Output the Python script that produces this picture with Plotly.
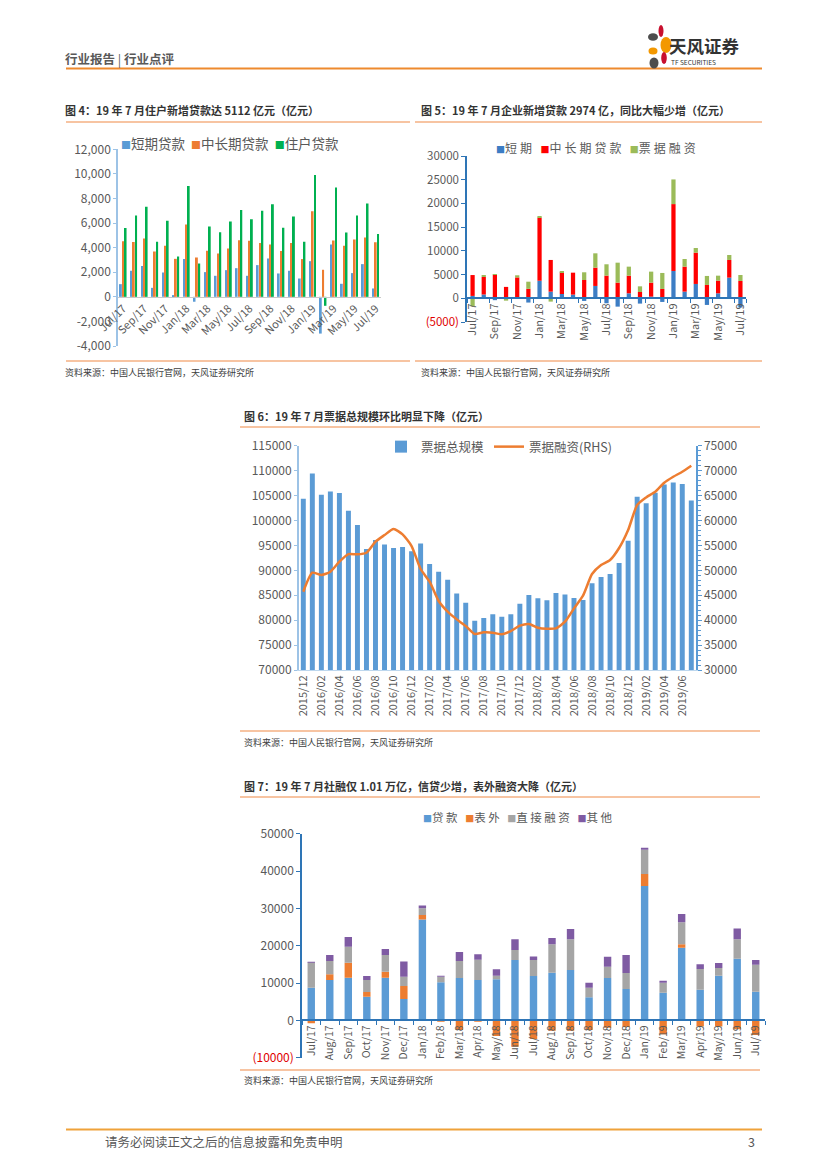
import plotly.graph_objects as go

# page is drawn with an 8px body margin, so the figure is offset by OFF
W, H, OFF = 827, 1169, 8
FW, FH = W - OFF, H - OFF
def fx(x): return (x - OFF) / FW
def fy(y): return 1 - (y - OFF) / FH

# ---------------- data ----------------
months = ["Jul/17","Aug/17","Sep/17","Oct/17","Nov/17","Dec/17","Jan/18","Feb/18","Mar/18","Apr/18",
          "May/18","Jun/18","Jul/18","Aug/18","Sep/18","Oct/18","Nov/18","Dec/18","Jan/19","Feb/19",
          "Mar/19","Apr/19","May/19","Jun/19","Jul/19"]

# Fig 4 household loans
short4 = [1030, 2120, 2500, 730, 1980, 140, 3070, -400, 2010, 1710, 2170, 2330, 1710, 2580, 3120,
          1900, 2120, 1490, 2900, -2990, 4260, 1060, 1930, 2660, 680]
mid4 = [4530, 4450, 4750, 3690, 4150, 3090, 5890, 3200, 3740, 3530, 3930, 4610, 4560, 4370, 4260,
        3720, 4370, 3070, 6970, 2200, 4590, 4150, 4670, 4830, 4430]
house4 = [5590, 6620, 7330, 4480, 6190, 3280, 9010, 2710, 5730, 5260, 6130, 7060, 6320, 7000, 7540,
          5620, 6540, 4480, 9900, -730, 8900, 5240, 6620, 7600, 5112]
names4 = ["短期贷款", "中长期贷款", "住户贷款"]
colors4 = ["#5B9BD5", "#ED7D31", "#00B050"]
ticks4 = [-4000, -2000, 0, 2000, 4000, 6000, 8000, 10000, 12000]
ticktext4 = ["-4,000", "-2,000", "0", "2,000", "4,000", "6,000", "8,000", "10,000", "12,000"]

# Fig 5 enterprise loans
short5 = [500, 800, -400, 100, 200, -900, 3700, 1400, 900, 770, -560, 2600, -1050, -1760, 1050,
          -1120, 350, -770, 5760, 1400, 3020, -1400, 1050, 4350, -1950]
mid5 = [4400, 3700, 5000, 2300, 4200, 2000, 13300, 6680, 4580, 4630, 3860, 3860, 4780, 3300, 3720,
        1330, 2950, 1970, 14100, 5270, 6600, 2810, 2670, 3730, 3650]
bill5 = [-1700, 200, 100, -500, 450, 1500, 350, -700, 100, 0, 1620, 3020, 2390, 4210, 1900,
         1190, 2320, 3370, 5200, 1620, 980, 1900, 1050, 1050, 1260]
names5 = ["短期", "中长期贷款", "票据融资"]
colors5 = ["#3C7DC4", "#FF0000", "#9BBB59"]
ticks5 = [-5000, 0, 5000, 10000, 15000, 20000, 25000, 30000]
ticktext5 = ["<span style='color:#E00000'>(5000)</span>", "0", "5000", "10000", "15000", "20000", "25000", "30000"]

# Fig 6 bills
months6 = ["2015/12","2016/01","2016/02","2016/03","2016/04","2016/05","2016/06","2016/07","2016/08",
           "2016/09","2016/10","2016/11","2016/12","2017/01","2017/02","2017/03","2017/04","2017/05",
           "2017/06","2017/07","2017/08","2017/09","2017/10","2017/11","2017/12","2018/01","2018/02",
           "2018/03","2018/04","2018/05","2018/06","2018/07","2018/08","2018/09","2018/10","2018/11",
           "2018/12","2019/01","2019/02","2019/03","2019/04","2019/05","2019/06","2019/07"]
bill_total = [104360, 109440, 105160, 105830, 105500, 101950, 99080, 94270, 96070, 95200, 94470,
              94670, 93800, 95400, 91260, 89720, 88120, 85370, 83500, 79890, 80430, 81160, 80700,
              81160, 83300, 85040, 84370, 83970, 85440, 85170, 84440, 84040, 87380, 88650, 89250,
              91460, 95940, 104760, 103430, 105570, 107240, 107640, 107300, 104030]
bill_fin = [45710, 49520, 49050, 49720, 51730, 53260, 53200, 53530, 55740, 57070, 58280, 57210,
            54870, 50260, 47710, 43840, 41700, 40160, 38820, 37220, 37550, 37490, 37150, 37820,
            38890, 39230, 38490, 38290, 38360, 39690, 42370, 44910, 49250, 51060, 52060, 54470,
            58080, 63090, 64630, 65760, 67570, 68770, 69780, 70980]

# Fig 7 TSF
loan7 = [8750, 10800, 11430, 6340, 11430, 5710, 27050, 10180, 11340, 10800, 10980, 16160, 11880,
         12770, 13480, 6160, 11340, 8390, 35980, 7410, 19460, 8210, 11960, 16520, 7680]
off7 = [-800, 1520, 4020, 1250, 1610, 3490, 1160, -100, -2590, -200, -4200, -7050, -5000, -2770,
        -2770, -2590, -1960, -1790, 3220, -3750, 900, -1610, -1610, -2410, -3930]
direct7 = [6790, 3570, 4280, 3210, 4460, 2500, 1790, 1520, 4550, 5450, 980, 2680, 4280, 7590, 8220,
           2590, 3040, 4290, 6510, 2680, 5890, 5540, 2060, 5180, 7230]
other7 = [150, 1610, 2590, 1080, 1610, 4100, 800, 180, 2410, 1430, 1700, 2860, 980, 1700, 2760,
          1340, 2680, 4820, 540, 450, 2230, 1250, 1340, 2940, 1250]
names7 = ["贷款", "表外", "直接融资", "其他"]
colors7 = ["#5B9BD5", "#ED7D31", "#A5A5A5", "#7F5BA3"]
ticks7 = [-10000, 0, 10000, 20000, 30000, 40000, 50000]
ticktext7 = ["<span style='color:#E00000'>(10000)</span>", "0", "10000", "20000", "30000", "40000", "50000"]

# ---------------- figure ----------------
fig = go.Figure()
FONT = "Noto Sans CJK SC"
GRAY = "#595959"

# Fig 4
for name, vals, col, g in zip(names4, [short4, mid4, house4], colors4, ["a", "b", "c"]):
    fig.add_trace(go.Bar(x=months, y=vals, name=name, marker_color=col, marker_line_width=0,
                         offsetgroup=g, xaxis="x", yaxis="y", showlegend=False))

# Fig 5
for name, vals, col in zip(names5, [short5, mid5, bill5], colors5):
    fig.add_trace(go.Bar(x=months, y=vals, name=name, marker_color=col, marker_line_width=0,
                         width=0.38, offsetgroup="s5", xaxis="x2", yaxis="y2", showlegend=False))

# Fig 6
fig.add_trace(go.Bar(x=months6, y=bill_total, name="票据总规模", marker_color="#5B9BD5",
                     marker_line_width=0, width=0.55, offsetgroup="s6",
                     xaxis="x3", yaxis="y3", legend="legend"))
fig.add_trace(go.Scatter(x=months6, y=bill_fin, name="票据融资(RHS)", mode="lines",
                         line=dict(color="#ED7D31", width=2.5, shape="spline", smoothing=0.6),
                         xaxis="x3", yaxis="y4", legend="legend"))

# Fig 7
for name, vals, col in zip(names7, [loan7, off7, direct7, other7], colors7):
    fig.add_trace(go.Bar(x=months, y=vals, name=name, marker_color=col, marker_line_width=0,
                         width=0.4, offsetgroup="s7", xaxis="x4", yaxis="y5", showlegend=False))

# axes geometry
y4_dom = [fy(346), fy(149.3)]
x4_pos = y4_dom[0] + (0 - ticks4[0]) / (ticks4[-1] - ticks4[0]) * (y4_dom[1] - y4_dom[0])
y5_dom = [fy(322), fy(156)]
x5_pos = y5_dom[0] + (0 - ticks5[0]) / (ticks5[-1] - ticks5[0]) * (y5_dom[1] - y5_dom[0])
y7_dom = [fy(1057.7), fy(833.7)]
x7_pos = y7_dom[0] + (0 - ticks7[0]) / (ticks7[-1] - ticks7[0]) * (y7_dom[1] - y7_dom[0])

common = dict(showgrid=False, zeroline=False, fixedrange=True, automargin=False)

layout = dict(
    width=FW, height=FH, margin=dict(l=0, r=0, t=0, b=0, autoexpand=False),
    paper_bgcolor="white", plot_bgcolor="rgba(0,0,0,0)",
    barmode="relative", bargap=0.33, bargroupgap=0.2,
    font=dict(family=FONT, color=GRAY, size=11),
    # Fig 4
    xaxis=dict(domain=[fx(118), fx(381)], anchor="free", position=x4_pos, type="category",
               tickmode="array", tickvals=months[::2], tickangle=-45,
               tickfont=dict(size=11, color=GRAY), showline=True, linecolor="#C9C9C9",
               linewidth=1, ticks="", **common),
    yaxis=dict(domain=y4_dom, range=[ticks4[0], ticks4[-1]], tickmode="array",
               tickvals=ticks4, ticktext=ticktext4, tickfont=dict(size=12, color=GRAY),
               showline=True, linecolor="#9DC3E6", linewidth=1.5, ticks="outside", ticklen=3,
               tickcolor="#9DC3E6", anchor="x", **common),
    # Fig 5
    xaxis2=dict(domain=[fx(467), fx(746)], anchor="free", position=x5_pos, type="category",
                tickmode="array", tickvals=months[::2], tickangle=-90,
                tickfont=dict(size=11, color=GRAY), showline=True, linecolor="#2E75B6",
                linewidth=1.5, ticks="outside", ticklen=4, tickcolor="#2E75B6",
                tickson="boundaries", **common),
    yaxis2=dict(domain=y5_dom, range=[ticks5[0], ticks5[-1]], tickmode="array",
                tickvals=ticks5, ticktext=ticktext5, tickfont=dict(size=11.5, color=GRAY),
                showline=True, linecolor="#2E75B6", linewidth=1.5, ticks="outside", ticklen=4,
                tickcolor="#2E75B6", anchor="x2", **common),
    # Fig 6
    xaxis3=dict(domain=[fx(298.8), fx(695.8)], anchor="y3", type="category",
                tickmode="array", tickvals=months6[::2], tickangle=-90,
                tickfont=dict(size=11, color=GRAY), showline=True, linecolor="#BDD7EE",
                linewidth=1, ticks="", **common),
    yaxis3=dict(domain=[fy(670), fy(445.7)], range=[70000, 115000], dtick=5000,
                tickfont=dict(size=12, color=GRAY), showline=True, linecolor="#9DC3E6",
                linewidth=1.5, ticks="outside", ticklen=3, tickcolor="#9DC3E6",
                anchor="x3", tickformat="d", **common),
    yaxis4=dict(overlaying="y3", side="right", anchor="x3", range=[30000, 75000], dtick=5000,
                tickfont=dict(size=12, color=GRAY), showline=True, linecolor="#5B9BD5",
                linewidth=1.5, ticks="outside", ticklen=4, tickcolor="#5B9BD5",
                minor=dict(ticks="outside", dtick=1000, ticklen=3, tickcolor="#5B9BD5"),
                tickformat="d", **common),
    # Fig 7
    xaxis4=dict(domain=[fx(302), fx(765)], anchor="free", position=x7_pos, type="category",
                tickmode="array", tickvals=months, tickangle=-90,
                tickfont=dict(size=10.5, color=GRAY), showline=True, linecolor="#2E75B6",
                linewidth=1.5, ticks="outside", ticklen=4, tickcolor="#2E75B6",
                tickson="boundaries", **common),
    yaxis5=dict(domain=y7_dom, range=[ticks7[0], ticks7[-1]], tickmode="array",
                tickvals=ticks7, ticktext=ticktext7, tickfont=dict(size=12, color=GRAY),
                showline=True, linecolor="#2E75B6", linewidth=1.5, ticks="outside", ticklen=4,
                tickcolor="#2E75B6", anchor="x4", **common),
    legend=dict(x=fx(381), y=fy(447), xanchor="left", yanchor="middle", orientation="h",
                font=dict(size=12.5, color=GRAY), bgcolor="rgba(0,0,0,0)"),
)
fig.update_layout(**layout)

# ---------------- page decoration ----------------
shapes = []
def hline(x0, x1, y, color, width):
    shapes.append(dict(type="line", xref="paper", yref="paper", x0=fx(x0), x1=fx(x1),
                       y0=fy(y), y1=fy(y), line=dict(color=color, width=width)))

hline(66, 762, 68.5, "#EE8A2E", 2)        # header
hline(66, 410, 122, "#F4B183", 1.3)      # fig4 title
hline(415, 762, 122, "#F4B183", 1.3)     # fig5 title
hline(66, 410, 361, "#F4B183", 1.3)      # fig4 source
hline(415, 762, 361, "#F4B183", 1.3)     # fig5 source
hline(240, 760, 427, "#F4B183", 1.3)     # fig6 title
hline(240, 760, 731, "#F4B183", 1.3)     # fig6 source
hline(240, 760, 797, "#F4B183", 1.3)     # fig7 title
hline(240, 760, 1070, "#F4B183", 1.3)    # fig7 source
hline(66, 762, 1129.5, "#EFA23A", 2)     # footer

def ellipse(cx, cy, rx, ry, color):
    shapes.append(dict(type="circle", xref="paper", yref="paper", x0=fx(cx - rx), x1=fx(cx + rx),
                       y0=fy(cy + ry), y1=fy(cy - ry), fillcolor=color, line=dict(width=0)))

ellipse(653, 37, 5, 3.8, "#4D4D4D")
ellipse(661, 31, 2.5, 6, "#C8102E")
ellipse(666, 45, 5.5, 8, "#F39800")
ellipse(653, 51, 4.5, 3.5, "#F39800")
ellipse(664, 58, 2.8, 6, "#C8102E")
ellipse(654, 63, 4.5, 5.5, "#4D4D4D")
fig.update_layout(shapes=shapes)

def note(x, y, text, size, color="#404040", xanchor="left"):
    fig.add_annotation(xref="paper", yref="paper", x=fx(x), y=fy(y), text=text, showarrow=False,
                       xanchor=xanchor, yanchor="middle", borderpad=0,
                       font=dict(family=FONT, size=size, color=color))

def legend_text(names, colors, sq, spacing=None):
    parts = []
    for n, c in zip(names, colors):
        label = n if spacing is None else f"<span style='letter-spacing:{spacing}px'>{n}</span>"
        parts.append(f"<span style='color:{c};font-size:{sq}px'>■</span>{label}")
    return "\u00a0\u00a0".join(parts)

note(120, 143, legend_text(names4, colors4, 10), 13.5, GRAY)
note(495, 148, legend_text(names5, colors5, 9, 3), 12, GRAY)
note(422, 817, legend_text(names7, colors7, 9, 2.5), 11.5, GRAY)

note(64, 58, "<b>行业报告</b> | <b>行业点评</b>", 12.5, "#595959")
note(668, 46, "<b>天风证券</b>", 17.5, "#333333")
note(670, 62, "TF SECURITIES", 6.5, "#333333")

note(64, 110, "<b>图 4：19 年 7 月住户新增贷款达 5112 亿元（亿元）</b>", 11, "#333333")
note(420, 110, "<b>图 5：19 年 7 月企业新增贷款 2974 亿，同比大幅少增（亿元）</b>", 11, "#333333")
note(243, 416, "<b>图 6：19 年 7 月票据总规模环比明显下降（亿元）</b>", 11, "#333333")
note(243, 786, "<b>图 7：19 年 7 月社融仅 1.01 万亿，信贷少增，表外融资大降（亿元）</b>", 11, "#333333")

src = "资料来源：中国人民银行官网，天风证券研究所"
note(64, 372, src, 9)
note(420, 372, src, 9)
note(243, 742, src, 9)
note(243, 1080, src, 9)

note(104, 1141, "请务必阅读正文之后的信息披露和免责申明", 12.5, "#595959")
note(756, 1141, "3", 12.5, "#595959", xanchor="right")

fig.write_html("out.html")
